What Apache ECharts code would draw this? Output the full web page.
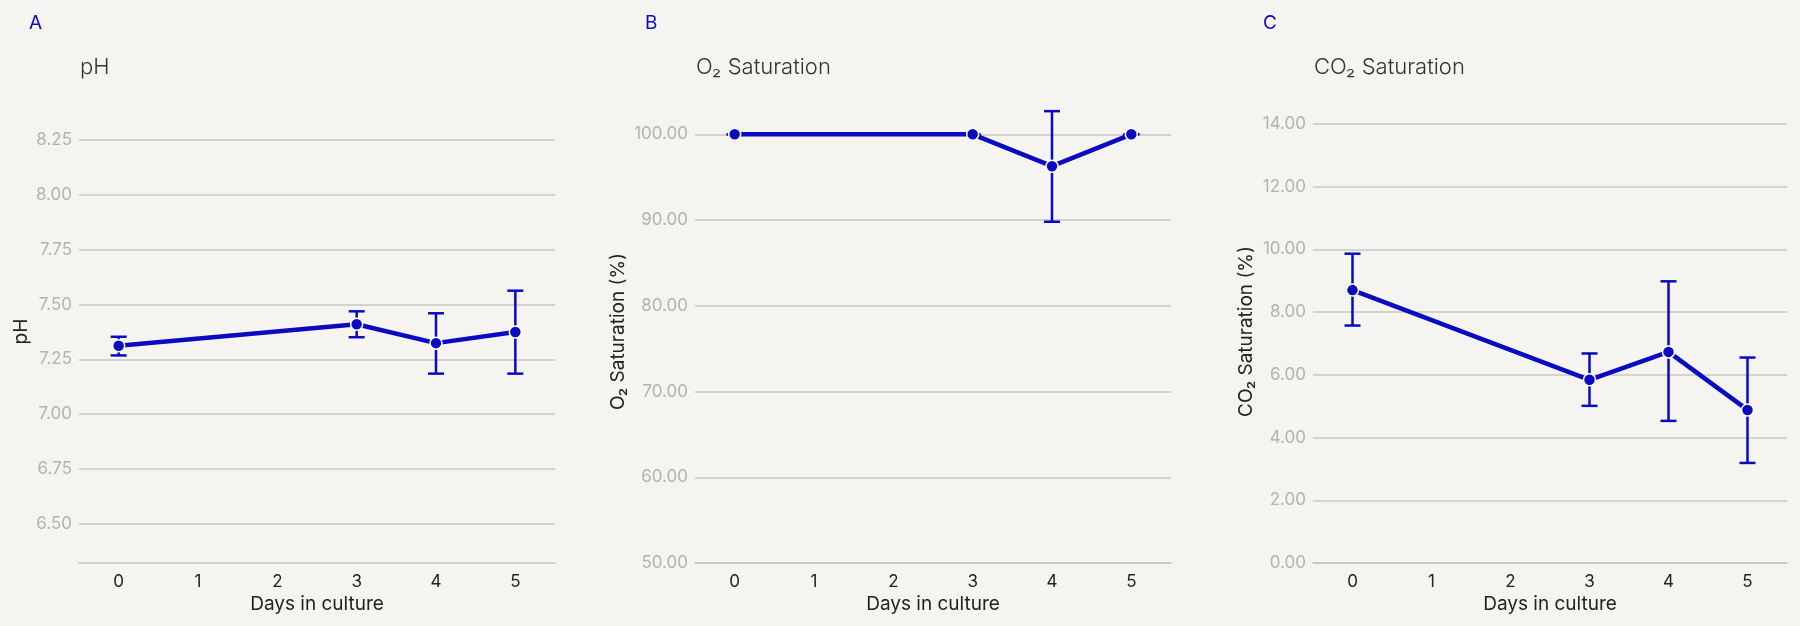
<!DOCTYPE html>
<html>
<head>
<meta charset="utf-8">
<script src="https://cdn.jsdelivr.net/npm/echarts@6/dist/echarts.min.js"></script>
<style>
  html, body { margin: 0; padding: 0; background: #f5f4f0; }
  #chart { width: 1800px; height: 626px; }
</style>
</head>
<body>
<div id="chart"></div>
<script>
/* data */
var days = ['0', '1', '2', '3', '4', '5'];

var phMean = [7.312, null, null, 7.41, 7.324, 7.375];
var phLow  = [7.268, null, null, 7.351, 7.185, 7.185];
var phHigh = [7.353, null, null, 7.469, 7.46, 7.563];

var o2Mean = [100, null, null, 100, 96.28, 100];
var o2Low  = [100, null, null, 100, 89.8, 100];
var o2High = [100, null, null, 100, 102.7, 100];

var co2Mean = [8.70, null, null, 5.84, 6.73, 4.88];
var co2Low  = [7.57, null, null, 5.01, 4.53, 3.19];
var co2High = [9.86, null, null, 6.68, 8.98, 6.55];

var phTicks  = [6.5, 6.75, 7.0, 7.25, 7.5, 7.75, 8.0, 8.25];
var o2Ticks  = [50, 60, 70, 80, 90, 100];
var co2Ticks = [0, 2, 4, 6, 8, 10, 12, 14];

var blue = '#0a0ac0';
var font = 'Inter';

/* [x, low, high] rows for the error bars */
function errRows(mean, low, high) {
    var rows = [];
    for (var i = 0; i < mean.length; i++) {
        if (mean[i] != null) rows.push([i, low[i], high[i]]);
    }
    return rows;
}

function renderErr(params, api) {
    var top = api.coord([api.value(0), api.value(2)]);
    var bot = api.coord([api.value(0), api.value(1)]);
    var hw = 8;
    var st = { stroke: blue, lineWidth: 2.5 };
    return {
        type: 'group',
        children: [
            { type: 'line', shape: { x1: top[0], y1: top[1], x2: bot[0], y2: bot[1] }, style: st },
            { type: 'line', shape: { x1: top[0] - hw, y1: top[1], x2: top[0] + hw, y2: top[1] }, style: st },
            { type: 'line', shape: { x1: bot[0] - hw, y1: bot[1], x2: bot[0] + hw, y2: bot[1] }, style: st }
        ]
    };
}

var grids = [
    { left: 79, top: 100, width: 476, height: 463 },
    { left: 695, top: 100, width: 476, height: 463 },
    { left: 1313, top: 100, width: 474, height: 463 }
];

function xAx(idx) {
    return {
        type: 'category', gridIndex: idx, data: days, boundaryGap: true,
        axisTick: { show: false },
        axisLine: { lineStyle: { color: '#c4c3bf', width: 1.5 } },
        axisLabel: { color: '#222', fontSize: 17, fontFamily: font, margin: 10 },
        name: 'Days in culture', nameLocation: 'middle', nameGap: 31,
        nameTextStyle: { color: '#222', fontSize: 19, fontFamily: font }
    };
}

function yAx(idx, min, max, ticks, name, gap) {
    return {
        type: 'value', gridIndex: idx, min: min, max: max,
        axisLine: { show: false },
        axisTick: { show: false, customValues: ticks },
        axisLabel: {
            customValues: ticks, color: '#b3b2ae', fontSize: 17, fontFamily: font, margin: 7,
            formatter: function (v) { return v.toFixed(2); }
        },
        splitLine: { show: true, lineStyle: { color: '#c8c7c3', width: 1.5 } },
        name: name, nameLocation: 'middle', nameGap: gap, nameRotate: 90,
        nameTextStyle: { color: '#222', fontSize: 19, fontFamily: font }
    };
}

function lineSeries(idx, mean) {
    return {
        type: 'line', xAxisIndex: idx, yAxisIndex: idx, data: mean, connectNulls: true,
        symbol: 'circle', symbolSize: 12, z: 3,
        lineStyle: { color: blue, width: 4.5 },
        itemStyle: { color: blue, borderColor: '#ffffff', borderWidth: 1.5 }
    };
}

function errSeries(idx, mean, low, high) {
    return {
        type: 'custom', xAxisIndex: idx, yAxisIndex: idx, z: 2,
        data: errRows(mean, low, high), renderItem: renderErr
    };
}

function ttl(text, left, top, size, color, weight) {
    return { text: text, left: left, top: top,
        textStyle: { fontSize: size, color: color, fontWeight: weight, fontFamily: font } };
}

var chart = echarts.init(document.getElementById('chart'));
var option = {
    backgroundColor: '#f5f4f0',
    animation: false,
    title: [
        ttl('A', 24, 9, 19, blue, 'normal'),
        ttl('B', 640, 9, 19, blue, 'normal'),
        ttl('C', 1258, 9, 19, blue, 'normal'),
        ttl('pH', 75, 51, 22, '#333', 300),
        ttl('O₂ Saturation', 691, 51, 22, '#333', 300),
        ttl('CO₂ Saturation', 1309, 51, 22, '#333', 300)
    ],
    grid: grids,
    xAxis: [xAx(0), xAx(1), xAx(2)],
    yAxis: [
        yAx(0, 6.322, 8.432, phTicks, 'pH', 48),
        yAx(1, 50, 104, o2Ticks, 'O₂ Saturation (%)', 67),
        yAx(2, 0, 14.76, co2Ticks, 'CO₂ Saturation (%)', 57)
    ],
    series: [
        errSeries(0, phMean, phLow, phHigh), lineSeries(0, phMean),
        errSeries(1, o2Mean, o2Low, o2High), lineSeries(1, o2Mean),
        errSeries(2, co2Mean, co2Low, co2High), lineSeries(2, co2Mean)
    ]
};
chart.setOption(option);
</script>
</body>
</html>
